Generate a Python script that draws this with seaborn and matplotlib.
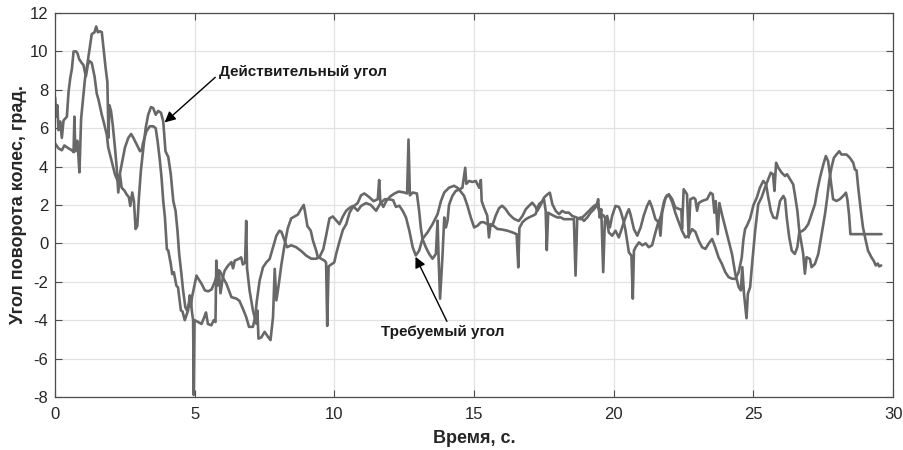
import matplotlib
matplotlib.use("Agg")
import matplotlib.pyplot as plt
import seaborn as sns
import pandas as pd

# ---- data ----
t_actual = [0.00, 0.12, 0.24, 0.33, 0.48, 0.60, 0.66, 0.69, 0.72, 0.76, 0.79, 0.83, 0.87, 0.93,
            1.01, 1.07, 1.17, 1.25, 1.31, 1.41, 1.47, 1.53, 1.61, 1.67, 1.73, 1.81, 1.87, 1.91,
            1.94, 2.00, 2.06, 2.14, 2.20, 2.26, 2.32, 2.38, 2.48, 2.56, 2.64, 2.69, 2.76, 2.82,
            2.88, 2.94, 3.00, 3.07, 3.16, 3.24, 3.33, 3.43, 3.51, 3.60, 3.69, 3.79, 3.87, 3.95,
            4.05, 4.14, 4.23, 4.31, 4.38, 4.44, 4.52, 4.58, 4.66, 4.72, 4.78, 4.85, 4.90, 4.94,
            4.96, 4.99, 5.12, 5.24, 5.35, 5.40, 5.47, 5.59, 5.68, 5.74, 5.77, 5.81, 5.86, 5.92,
            6.00, 6.07, 6.19, 6.31, 6.37, 6.43, 6.57, 6.66, 6.72, 6.80, 6.84, 6.87, 6.96, 7.08,
            7.20, 7.24, 7.28, 7.38, 7.50, 7.62, 7.71, 7.80, 7.86, 7.92, 8.00, 8.10, 8.20, 8.33,
            8.45, 8.57, 8.69, 8.81, 8.90, 8.95, 9.03, 9.15, 9.23, 9.35, 9.40, 9.52, 9.64, 9.70,
            9.74, 9.79, 9.88, 9.99, 10.06, 10.18, 10.30, 10.42, 10.54, 10.66, 10.83, 10.95, 11.07,
            11.25, 11.40, 11.55, 11.60, 11.64, 11.75, 11.85, 12.00, 12.15, 12.30, 12.50, 12.60,
            12.65, 12.70, 12.80, 12.95, 13.03, 13.09, 13.15, 13.27, 13.39, 13.51, 13.63, 13.69,
            13.73, 13.78, 13.87, 13.93, 13.99, 14.05, 14.10, 14.22, 14.34, 14.46, 14.58, 14.68,
            14.72, 14.82, 14.94, 15.06, 15.18, 15.24, 15.27, 15.35, 15.47, 15.53, 15.59, 15.71,
            15.83, 16.00, 16.19, 16.37, 16.52, 16.58, 16.62, 16.73, 16.85, 16.96, 17.08, 17.20,
            17.32, 17.44, 17.50, 17.56, 17.60, 17.65, 17.74, 17.86, 17.98, 18.10, 18.21, 18.39,
            18.57, 18.63, 18.69, 18.81, 18.93, 19.05, 19.17, 19.29, 19.38, 19.44, 19.49, 19.55,
            19.62, 19.68, 19.76, 19.86, 19.94, 20.06, 20.18, 20.24, 20.36, 20.42, 20.54, 20.63,
            20.68, 20.72, 20.78, 20.90, 21.02, 21.14, 21.25, 21.37, 21.49, 21.61, 21.67, 21.73,
            21.85, 21.97, 22.09, 22.20, 22.32, 22.42, 22.44, 22.50, 22.62, 22.68, 22.74, 22.86,
            22.92, 22.98, 23.04, 23.16, 23.34, 23.46, 23.54, 23.60, 23.65, 23.72, 23.78, 23.87,
            23.99, 24.11, 24.23, 24.35, 24.47, 24.55, 24.60, 24.66, 24.75, 24.80, 24.88, 24.94,
            25.06, 25.17, 25.29, 25.41, 25.53, 25.62, 25.70, 25.75, 25.81, 25.89, 26.01, 26.13,
            26.20, 26.31, 26.42, 26.48, 26.57, 26.64, 26.72, 26.78, 26.84, 26.90, 27.02, 27.08,
            27.20, 27.32, 27.44, 27.56, 27.64, 27.71, 27.79, 27.88, 27.97, 28.07, 28.15, 28.33,
            28.45, 28.57, 28.63, 28.69, 28.75, 28.83, 28.92, 29.02, 29.10, 29.22, 29.30, 29.38,
            29.45, 29.50, 29.57]
angle_actual = [5.2, 4.95, 4.85, 5.1, 4.95, 4.85, 4.75, 6.6, 4.8, 5.0, 5.35, 4.6, 3.7, 6.5,
                7.7, 8.6, 9.5, 10.3, 10.9, 11.0, 11.3, 11.0, 11.05, 11.0, 10.2, 9.1, 8.4, 5.5,
                7.2, 6.9, 6.2, 5.0, 4.0, 2.65, 3.6, 2.9, 2.75, 2.55, 2.4, 1.95, 2.65, 2.2,
                0.75, 0.9, 2.4, 3.8, 5.0, 6.0, 6.7, 7.1, 7.05, 6.7, 6.9, 6.8, 6.35, 4.8,
                4.5, 3.6, 2.2, 1.7, 0.65, -0.55, -1.59, -2.45, -3.32, -3.5, -3.2, -2.9, -3.6, -4.0,
                -7.9, -4.0, -4.1, -4.2, -3.8, -3.6, -4.2, -4.27, -4.0, -4.1, -0.9, -2.2, -1.4, -2.6,
                -1.8, -1.42, -1.16, -0.98, -1.3, -0.9, -0.81, -0.73, -1.1, -1.0, 1.17, -1.3, -2.45, -3.49,
                -4.18, -3.5, -4.96, -4.9, -4.61, -4.87, -5.04, -3.84, -1.33, -2.97, -2.2, -1.1, -0.2, 0.8,
                1.3, 1.4, 1.5, 1.8, 2.0, 1.6, 0.9, 0.66, 0.14, -0.4, -0.7, -0.8, -0.9, -1.0,
                -4.3, -1.2, -1.1, -1.0, -0.55, 0.1, 0.7, 1.0, 1.6, 1.9, 2.1, 2.5, 2.6,
                2.4, 2.2, 2.3, 3.3, 2.2, 1.9, 2.2, 2.45, 2.6, 2.7, 2.65, 2.6,
                5.41, 2.5, 2.65, 2.6, 1.7, 0.83, 0.23, -0.2, -0.55, -0.8, -0.55, 1.18,
                -0.9, -2.88, -0.55, 1.35, 0.83, 1.2, 2.0, 2.47, 2.73, 2.8, 2.9, 3.94,
                3.1, 3.25, 3.2, 3.25, 2.9, 3.3, 2.2, 1.87, 1.44, 0.31, 1.0, 0.9,
                0.75, 0.72, 0.66, 0.57, 0.48, -1.25, 0.8, 1.1, 1.26, 1.35, 1.43, 1.52,
                2.04, 2.2, 2.3, 1.7, -0.35, 1.6, 1.52, 1.43, 1.35, 1.35, 1.26, 1.26,
                1.26, -1.68, 1.26, 1.35, 1.17, 1.35, 1.6, 1.78, 1.95, 2.3, 1.35, 1.78,
                -1.5, 1.17, 1.43, 0.83, 1.43, 1.95, 1.9, 1.7, 1.1, 0.66, -0.47, -0.64,
                -2.88, -0.38, -0.2, 0.05, -0.1, 0.0, -0.2, -0.1, 0.57, 1.18, 0.4, 1.6,
                2.38, 2.56, 2.3, 1.87, 1.8, 1.75, 0.74, 2.82, 2.56, 0.31, 2.3, 2.38,
                2.3, 1.7, 2.1, 2.21, 2.3, 2.64, 2.56, 1.6, 2.2, 0.48, 2.1, 1.52,
                0.83, 0.14, -0.55, -1.59, -2.28, -2.45, -1.24, -2.62, -3.9, -2.62, -2.28, -1.24,
                0.66, 2.04, 2.39, 2.9, 3.34, 3.68, 3.6, 2.73, 4.2, 3.94, 3.68, 3.51,
                3.6, 3.34, 3.08, 2.56, 1.7, 0.66, -0.03, -0.55, -1.58, -0.72, -0.81, -1.24,
                -1.07, -0.55, 0.48, 1.52, 2.39, 3.25, 3.94, 4.46, 4.63, 4.8, 4.63, 4.63,
                4.46, 4.2, 3.85, 3.8, 2.9, 1.87, 0.83, 0.14, -0.38, -0.72, -0.9, -1.15,
                -1.05, -1.2, -1.15]

t_required = [0.00, 0.04, 0.08, 0.12, 0.18, 0.24, 0.30, 0.36, 0.42, 0.48, 0.54, 0.60, 0.66, 0.75,
              0.80, 0.86, 0.95, 1.01, 1.10, 1.17, 1.23, 1.31, 1.41, 1.49, 1.55, 1.67, 1.76, 1.85,
              1.90, 2.02, 2.14, 2.24, 2.30, 2.38, 2.50, 2.62, 2.72, 2.80, 2.92, 3.04, 3.10, 3.15,
              3.27, 3.39, 3.51, 3.60, 3.67, 3.75, 3.81, 3.87, 3.93, 4.00, 4.05, 4.14, 4.19, 4.25,
              4.34, 4.40, 4.50, 4.56, 4.64, 4.70, 4.76, 4.82, 4.86, 4.90, 5.06, 5.15, 5.24, 5.36,
              5.48, 5.60, 5.71, 5.83, 5.90, 5.95, 6.05, 6.13, 6.31, 6.49, 6.60, 6.72, 6.84, 6.94,
              7.08, 7.16, 7.22, 7.32, 7.44, 7.56, 7.68, 7.80, 7.92, 8.03, 8.10, 8.20, 8.30, 8.45,
              8.63, 8.81, 8.99, 9.17, 9.35, 9.47, 9.60, 9.70, 9.82, 9.94, 10.06, 10.18, 10.30,
              10.42, 10.54, 10.66, 10.83, 10.95, 11.13, 11.30, 11.49, 11.65, 11.80, 11.95, 12.10,
              12.20, 12.32, 12.44, 12.56, 12.68, 12.80, 12.91, 13.03, 13.15, 13.33, 13.51, 13.69,
              13.81, 13.93, 14.10, 14.28, 14.40, 14.52, 14.64, 14.76, 14.88, 15.00, 15.12, 15.24,
              15.35, 15.47, 15.65, 15.77, 15.89, 16.00, 16.12, 16.25, 16.37, 16.45, 16.60, 16.73,
              16.85, 16.96, 17.08, 17.20, 17.26, 17.38, 17.50, 17.62, 17.71, 17.80, 17.92, 18.04,
              18.15, 18.27, 18.39, 18.51, 18.66, 18.81, 18.93, 19.05, 19.17, 19.29, 19.40, 19.52,
              19.64, 19.76, 19.82, 19.94, 20.06, 20.18, 20.36, 20.48, 20.54, 20.60, 20.72, 20.84,
              20.96, 21.07, 21.19, 21.28, 21.37, 21.49, 21.61, 21.70, 21.80, 21.90, 22.00, 22.10,
              22.20, 22.30, 22.44, 22.56, 22.68, 22.80, 22.92, 23.04, 23.16, 23.28, 23.40, 23.52,
              23.63, 23.75, 23.87, 23.99, 24.11, 24.23, 24.35, 24.47, 24.58, 24.64, 24.70, 24.76,
              24.88, 25.00, 25.12, 25.23, 25.35, 25.45, 25.53, 25.62, 25.71, 25.83, 25.95, 26.07,
              26.13, 26.19, 26.28, 26.37, 26.48, 26.57, 26.64, 26.75, 26.84, 26.96, 27.08, 27.20,
              27.28, 27.38, 27.50, 27.59, 27.67, 27.76, 27.85, 27.97, 28.09, 28.21, 28.31, 28.36,
              28.42, 28.47, 29.58]
angle_required = [7.6, 6.6, 7.2, 5.9, 6.35, 5.5, 6.4, 6.5, 6.6, 7.9, 8.6, 9.1, 10.0, 10.0,
                  9.9, 9.6, 9.4, 9.3, 8.7, 9.3, 9.5, 9.4, 8.7, 7.8, 7.5, 6.7, 6.2, 5.65,
                  5.0, 4.3, 3.6, 3.25, 3.5, 4.1, 5.0, 5.5, 5.7, 5.5, 5.15, 4.8, 4.85, 5.25,
                  5.85, 6.1, 6.1, 6.0, 5.3, 4.3, 3.4, 2.2, 1.35, -0.3, -0.38, -1.07, -1.6, -1.5,
                  -2.2, -2.3, -3.49, -3.55, -4.0, -3.75, -3.49, -2.71, -3.3, -2.8, -1.68, -1.9, -2.1, -2.45,
                  -2.5, -2.4, -2.02, -1.5, -1.45, -1.6, -1.9, -2.1, -2.8, -2.88, -3.0, -3.4, -3.84, -4.35,
                  -4.35, -3.84, -3.0, -1.94, -1.25, -0.99, -0.81, -0.2, 0.4, 0.66, 0.6, 0.2, -0.2, -0.1,
                  -0.2, -0.4, -0.64, -0.8, -0.8, -0.7, -0.3, 0.4, 1.3, 1.4, 1.2, 1.0, 1.4,
                  1.7, 1.85, 1.95, 1.7, 1.95, 2.1, 2.0, 1.7, 2.1, 2.3, 2.3, 2.25,
                  1.9, 1.96, 1.7, 1.35, 0.66, -0.2, -0.63, -0.38, 0.23, 0.57, 1.0, 1.52,
                  2.2, 2.65, 2.9, 3.0, 2.9, 2.7, 2.47, 1.96, 1.35, 0.83, 0.92, 1.1,
                  1.1, 1.0, 0.92, 1.44, 1.83, 1.96, 1.8, 1.52, 1.35, 1.26, 1.17, 1.43,
                  1.78, 1.95, 2.12, 1.9, 1.69, 2.0, 2.38, 2.55, 2.64, 2.04, 1.69, 1.52,
                  1.69, 1.6, 1.6, 1.43, 1.35, 1.26, 1.43, 1.6, 1.78, 1.95, 2.04, 1.52,
                  1.45, 1.1, 0.57, 0.4, 0.66, 0.31, 1.1, 1.6, 1.78, 1.5, 0.74, 0.4,
                  0.83, 1.44, 1.95, 2.21, 1.87, 1.26, 1.09, 1.5, 2.2, 2.5, 2.45, 2.1,
                  1.6, 1.2, 0.66, 0.31, 0.4, 0.74, 0.6, 0.14, -0.2, -0.29, 0.0, 0.23,
                  -0.2, -0.73, -1.07, -1.5, -1.76, -1.84, -1.85, -1.5, -0.73, 0.2, 0.75, 0.9,
                  1.3, 2.0, 2.39, 2.9, 3.25, 3.08, 2.39, 1.7, 1.35, 1.3, 2.21, 2.47,
                  2.3, 1.35, 0.31, -0.38, -0.55, -0.2, 0.57, 0.65, 0.75, 1.0, 1.52, 2.04,
                  2.73, 3.42, 4.11, 4.55, 4.29, 3.34, 2.3, 2.21, 2.3, 2.47, 2.64, 2.3,
                  1.52, 0.48, 0.48]

x_ticks = [0, 5, 10, 15, 20, 25, 30]
y_ticks = [-8, -6, -4, -2, 0, 2, 4, 6, 8, 10, 12]

df_actual = pd.DataFrame({"t": t_actual, "angle": angle_actual})
df_required = pd.DataFrame({"t": t_required, "angle": angle_required})

sns.set_theme(style="whitegrid")
plt.rcParams["font.family"] = ["Liberation Sans", "DejaVu Sans"]
plt.rcParams["axes.unicode_minus"] = False

fig = plt.figure(figsize=(9.04, 4.5), dpi=100)
ax = fig.add_axes([0.061, 0.118, 0.927, 0.853])

line_color = "#686868"
sns.lineplot(data=df_actual, x="t", y="angle", ax=ax, color=line_color, lw=1.9,
             estimator=None, sort=False)
sns.lineplot(data=df_required, x="t", y="angle", ax=ax, color=line_color, lw=1.9,
             estimator=None, sort=False)

ax.set_xlim(0, 30)
ax.set_ylim(-8, 12)
ax.set_xticks(x_ticks)
ax.set_yticks(y_ticks)
ax.grid(True, color="#e2e2e2", lw=0.9)
ax.set_facecolor("white")
for s in ax.spines.values():
    s.set_visible(True)
    s.set_color("#4d4d4d")
    s.set_linewidth(0.9)
ax.tick_params(axis="both", direction="in", length=5, width=0.8, color="#4d4d4d",
               top=True, right=True, bottom=True, left=True, labelsize=12,
               labelcolor="#262626")
ax.tick_params(axis="x", pad=7)
ax.tick_params(axis="y", pad=5)

ax.set_xlabel("Время, с.", fontsize=13, fontweight="bold", color="#262626", labelpad=6)
ax.set_ylabel("Угол поворота колес, град.", fontsize=13, fontweight="bold",
              color="#262626", labelpad=2)

arrow = dict(arrowstyle="-|>", color="black", lw=1.0, mutation_scale=16,
             shrinkA=0, shrinkB=0)
ax.annotate("Действительный угол", xy=(3.92, 6.3), xytext=(5.85, 8.95),
            fontsize=11, fontweight="bold", color="#1a1a1a", va="center", ha="left",
            arrowprops=dict(arrow, relpos=(0, 0.3)))
ax.annotate("Требуемый угол", xy=(12.9, -0.7), xytext=(11.65, -4.6),
            fontsize=11, fontweight="bold", color="#1a1a1a", va="center", ha="left",
            arrowprops=dict(arrow, relpos=(0.55, 1.0)))

fig.savefig("out.png", dpi=100)
